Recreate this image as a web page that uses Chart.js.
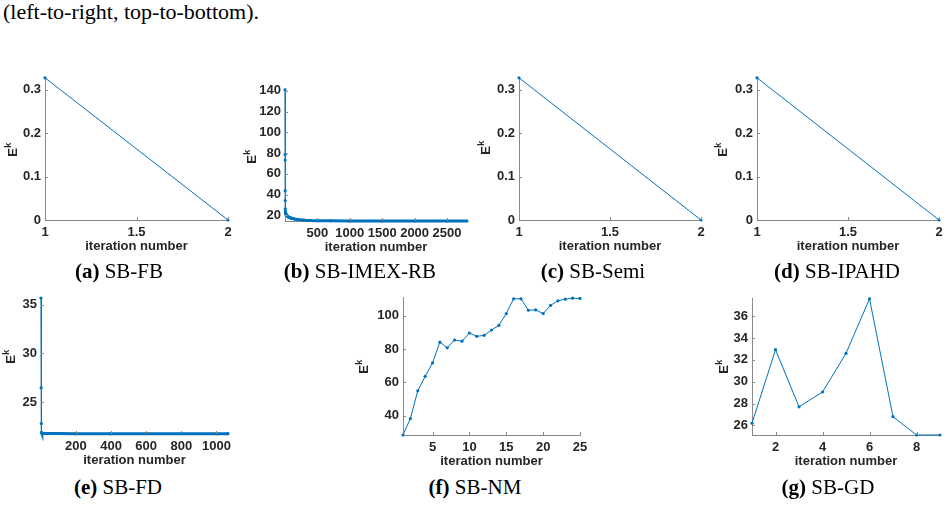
<!DOCTYPE html>
<html><head><meta charset="utf-8">
<script src="https://cdn.jsdelivr.net/npm/chart.js@4/dist/chart.umd.min.js"></script>
<style>
html,body{margin:0;padding:0;background:#fff}
body{width:949px;height:521px;position:relative;overflow:hidden}
canvas.c{position:absolute}
.cap{position:absolute;font-family:"Liberation Serif","Times New Roman","DejaVu Serif",serif;font-size:21px;color:#000;white-space:nowrap;transform:translateX(-50%);line-height:24px}
.top{position:absolute;left:3px;top:0px;font-family:"Liberation Serif","Times New Roman","DejaVu Serif",serif;font-size:22px;line-height:24px;color:#000;white-space:nowrap}
</style>
</head><body>
<div class="top">(left-to-right, top-to-bottom).</div>
<script>
// ---- data ----
const fbIter = [1, 2];
const fbVal = [0.327, 0];
const semiIter = [1, 2];
const semiVal = [0.327, 0];
const ipahdIter = [1, 2];
const ipahdVal = [0.327, 0];
const twoXTicks = [1, 1.5, 2];
const twoYTicks = [0, 0.1, 0.2, 0.3];

const imexIter = [1, 2, 3, 4, 5, 6, 7, 8, 10, 15, 20, 30, 40, 60, 80, 100, 150, 200, 300, 400, 500, 700, 1000, 1500, 2000, 2500, 2808];
const imexVal = [141, 78.8, 73.3, 43.8, 34.3, 26.4, 24.5, 23.2, 22.3, 21.3, 20.7, 19.9, 19.3, 18.4, 17.8, 17.3, 16.5, 16.0, 15.4, 15.1, 14.95, 14.8, 14.7, 14.65, 14.6, 14.6, 14.6];
const imexXTicks = [500, 1000, 1500, 2000, 2500];
const imexYTicks = [20, 40, 60, 80, 100, 120, 140];

const fdIter = [1, 2, 3, 4, 6, 10, 20, 50, 100, 200, 400, 600, 800, 1000, 1066];
const fdVal = [35.67, 26.47, 22.8, 21.9, 21.8, 21.78, 21.77, 21.76, 21.76, 21.75, 21.75, 21.75, 21.75, 21.75, 21.75];
const fdXTicks = [200, 400, 600, 800, 1000];
const fdYTicks = [25, 30, 35];

const nmIter = [1,2,3,4,5,6,7,8,9,10,11,12,13,14,15,16,17,18,19,20,21,22,23,24,25];
const nmVal = [28.3, 38.2, 54.9, 63.6, 71.7, 84.2, 80.8, 85.5, 84.8, 89.7, 87.7, 88.3, 91.5, 94.3, 101.4, 110.3, 110.3, 103.4, 103.6, 101.4, 106.3, 109.1, 110.1, 110.7, 110.5];
const nmXTicks = [5, 10, 15, 20, 25];
const nmYTicks = [40, 60, 80, 100];

const gdIter = [1, 2, 3, 4, 5, 6, 7, 8, 9];
const gdVal = [26.2, 32.94, 27.7, 29.06, 32.6, 37.6, 26.8, 25.12, 25.12];
const gdXTicks = [2, 4, 6, 8];
const gdYTicks = [26, 28, 30, 32, 34, 36];

const captionTags = ['(a)', '(b)', '(c)', '(d)', '(e)', '(f)', '(g)'];
const captionNames = ['SB-FB', 'SB-IMEX-RB', 'SB-Semi', 'SB-IPAHD', 'SB-FD', 'SB-NM', 'SB-GD'];
const xTitle = 'iteration number';

// ---- drawing ----
const BLUE = '#0072BD';
const AXIS = '#8a8a8a';
const TXT = '#262626';
const FONT = '"Liberation Sans", Arial, sans-serif';
const YW = 52, XH = 40, PT = 10, PR = 14;

const axisDeco = {
  id: 'axisDeco',
  afterDraw(chart, args, o) {
    const ctx = chart.ctx, a = chart.chartArea;
    const xs = chart.scales.x, ys = chart.scales.y;
    ctx.save();
    ctx.strokeStyle = AXIS; ctx.lineWidth = 1;
    xs.ticks.forEach(t => { const p = Math.round(xs.getPixelForValue(t.value)) + 0.5; ctx.beginPath(); ctx.moveTo(p, a.bottom); ctx.lineTo(p, a.bottom - 3); ctx.stroke(); });
    ys.ticks.forEach(t => { const p = Math.round(ys.getPixelForValue(t.value)) + 0.5; ctx.beginPath(); ctx.moveTo(a.left, p); ctx.lineTo(a.left + 3, p); ctx.stroke(); });
    // x title
    ctx.fillStyle = TXT;
    ctx.font = 'bold 13px ' + FONT;
    ctx.textAlign = 'center'; ctx.textBaseline = 'middle';
    ctx.fillText(xTitle, (a.left + a.right) / 2, a.bottom + 26);
    // y title E^k
    ctx.translate(a.left - o.dx, o.cy - chart.canvas.offsetTop);
    ctx.rotate(-Math.PI / 2);
    ctx.font = 'bold 13px ' + FONT;
    const wE = ctx.measureText('E').width;
    ctx.font = 'bold 9px ' + FONT;
    const wk = ctx.measureText('k').width;
    const x0 = -(wE + wk) / 2;
    ctx.textAlign = 'left'; ctx.textBaseline = 'alphabetic';
    ctx.font = 'bold 13px ' + FONT;
    ctx.fillText('E', x0, 4.5);
    ctx.font = 'bold 9px ' + FONT;
    ctx.fillText('k', x0 + wE + 0.5, -1.5);
    ctx.restore();
  }
};

function makeChart(box, iters, vals, xMin, xMax, yMin, yMax, xTicks, yTicks, dx, cy, thickFrom) {
  const cv = document.createElement('canvas');
  cv.className = 'c';
  const left = box.l - YW, top = box.t - PT;
  const w = box.r - box.l + YW + PR, h = box.b - box.t + PT + XH;
  cv.width = w; cv.height = h;
  cv.style.left = left + 'px'; cv.style.top = top + 'px';
  cv.style.width = w + 'px'; cv.style.height = h + 'px';
  document.body.appendChild(cv);
  const pts = iters.map((x, i) => ({ x: x, y: vals[i] }));
  const tickFont = { family: FONT, weight: 'bold', size: 13 };
  new Chart(cv, {
    type: 'line',
    data: { datasets: [{
      data: pts, borderColor: BLUE, backgroundColor: BLUE, borderWidth: 1,
      pointRadius: 1.6, pointBackgroundColor: BLUE, pointBorderWidth: 0, pointHoverRadius: 0,
      tension: 0, clip: false,
      segment: thickFrom ? { borderWidth: c => (c.p0.parsed.x >= thickFrom ? 3 : 1.2) } : undefined
    }] },
    options: {
      responsive: false, animation: false, devicePixelRatio: 1,
      events: [],
      layout: { padding: { left: 0, right: PR, top: PT, bottom: 0 }, autoPadding: false },
      plugins: { legend: { display: false }, tooltip: { enabled: false }, axisDeco: { dx: dx, cy: cy } },
      scales: {
        x: {
          type: 'linear', min: xMin, max: xMax,
          afterFit: s => { s.height = XH; },
          afterBuildTicks: s => { s.ticks = xTicks.map(v => ({ value: v })); },
          grid: { display: false, drawTicks: false },
          border: { display: true, color: AXIS, width: 1 },
          ticks: { padding: 5, color: TXT, font: tickFont, maxRotation: 0, autoSkip: false, callback: v => String(v) }
        },
        y: {
          type: 'linear', min: yMin, max: yMax,
          afterFit: s => { s.width = YW; },
          afterBuildTicks: s => { s.ticks = yTicks.map(v => ({ value: v })); },
          grid: { display: false, drawTicks: false },
          border: { display: true, color: AXIS, width: 1 },
          ticks: { padding: 4, color: TXT, font: tickFont, autoSkip: false, callback: v => String(v) }
        }
      }
    },
    plugins: [axisDeco]
  });
}

makeChart({ l: 45, r: 228, t: 76, b: 220 }, fbIter, fbVal, 1, 2, 0, 0.327, twoXTicks, twoYTicks, 33, 150);
makeChart({ l: 285, r: 467, t: 87, b: 221 }, imexIter, imexVal, 1, 2808, 14.6, 142, imexXTicks, imexYTicks, 34, 157, 8);
makeChart({ l: 519, r: 701, t: 76, b: 220 }, semiIter, semiVal, 1, 2, 0, 0.327, twoXTicks, twoYTicks, 34, 148);
makeChart({ l: 757, r: 939, t: 76, b: 220 }, ipahdIter, ipahdVal, 1, 2, 0, 0.327, twoXTicks, twoYTicks, 35, 150);
makeChart({ l: 41, r: 228, t: 296, b: 434 }, fdIter, fdVal, 1, 1066, 21.72, 35.7, fdXTicks, fdYTicks, 31, 357, 4);
makeChart({ l: 403, r: 580, t: 296, b: 435 }, nmIter, nmVal, 1, 25, 28.3, 110.9, nmXTicks, nmYTicks, 40, 367);
makeChart({ l: 752, r: 940, t: 297, b: 435 }, gdIter, gdVal, 1, 9, 25.12, 37.6, gdXTicks, gdYTicks, 29, 367);

// captions
const capPos = [[119, 259], [360, 259], [593, 259], [837, 259], [118, 475], [475, 475], [828, 475]];
captionTags.forEach((t, i) => {
  const d = document.createElement('div');
  d.className = 'cap';
  d.style.left = capPos[i][0] + 'px'; d.style.top = capPos[i][1] + 'px';
  const b = document.createElement('b'); b.textContent = t;
  d.appendChild(b);
  d.appendChild(document.createTextNode(' ' + captionNames[i]));
  document.body.appendChild(d);
});
</script>
</body></html>
